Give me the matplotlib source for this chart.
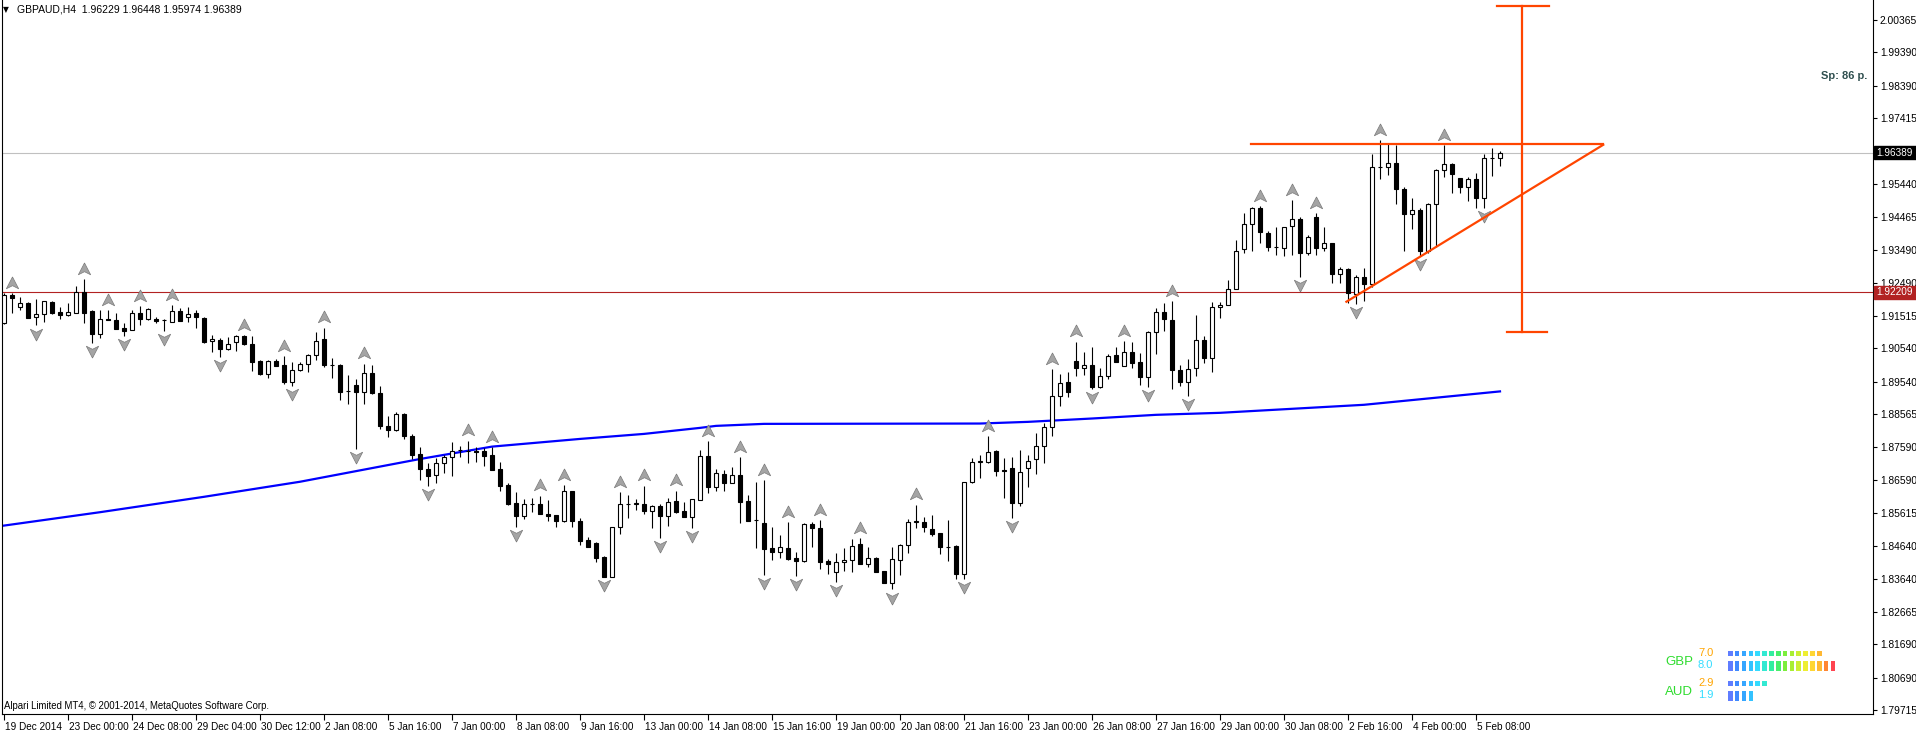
import numpy as np
import matplotlib
matplotlib.use('Agg')
import matplotlib.pyplot as plt
import matplotlib.transforms as mtransforms
from matplotlib.patches import Rectangle

plt.rcParams['font.family'] = ['Liberation Sans', 'DejaVu Sans']

# GBPAUD H4 candles, 19 Dec 2014 .. 5 Feb 2015
opens = [1.9128, 1.9214, 1.9176, 1.9190, 1.9146, 1.9155, 1.9192, 1.9162, 1.9152, 1.9160,
         1.9221, 1.9165, 1.9096, 1.9140, 1.9138, 1.9114, 1.9110, 1.9158, 1.9140, 1.9140,
         1.9137, 1.9133, 1.9165, 1.9146, 1.9158, 1.9143, 1.9075, 1.9080, 1.9052, 1.9072,
         1.9090, 1.9068, 1.9015, 1.8978, 1.9015, 1.9003, 1.8953, 1.8988, 1.9008, 1.9035,
         1.9083, 1.9005, 1.9005, 1.8925, 1.8945, 1.8923, 1.8981, 1.8921, 1.8823, 1.8811,
         1.8856, 1.8793, 1.8737, 1.8692, 1.8675, 1.8710, 1.8728, 1.8749, 1.8748, 1.8747,
         1.8747, 1.8735, 1.8692, 1.8645, 1.8591, 1.8554, 1.8588, 1.8589, 1.8560, 1.8555,
         1.8538, 1.8627, 1.8538, 1.8481, 1.8473, 1.8430, 1.8371, 1.8519, 1.8588, 1.8590,
         1.8589, 1.8568, 1.8583, 1.8553, 1.8597, 1.8567, 1.8551, 1.8601, 1.8732, 1.8640,
         1.8678, 1.8652, 1.8675, 1.8597, 1.8540, 1.8533, 1.8456, 1.8446, 1.8456, 1.8426,
         1.8419, 1.8528, 1.8516, 1.8418, 1.8384, 1.8414, 1.8421, 1.8468, 1.8408, 1.8426,
         1.8388, 1.8351, 1.8421, 1.8466, 1.8536, 1.8534, 1.8514, 1.8502, 1.8461, 1.8463,
         1.8378, 1.8655, 1.8715, 1.8715, 1.8748, 1.8690, 1.8695, 1.8592, 1.8695, 1.8722,
         1.8763, 1.8818, 1.8912, 1.8952, 1.9016, 1.8996, 1.9004, 1.8939, 1.8971, 1.9034,
         1.9002, 1.9042, 1.9012, 1.8969, 1.9102, 1.9163, 1.9138, 1.8989, 1.8952, 1.8994,
         1.9079, 1.9026, 1.9176, 1.9183, 1.9230, 1.9351, 1.9425, 1.9472, 1.9399, 1.9356,
         1.9353, 1.9419, 1.9440, 1.9340, 1.9445, 1.9353, 1.9368, 1.9275, 1.9290, 1.9216,
         1.9266, 1.9245, 1.9597, 1.9595, 1.9607, 1.9529, 1.9454, 1.9467, 1.9346, 1.9484,
         1.9587, 1.9605, 1.9562, 1.9537, 1.9559, 1.9502, 1.9623, 1.96229]
highs = [1.9218, 1.9218, 1.9208, 1.9193, 1.9200, 1.9196, 1.9196, 1.9178, 1.9190, 1.9240,
         1.9261, 1.9168, 1.9168, 1.9168, 1.9158, 1.9128, 1.9168, 1.9180, 1.9174, 1.9148,
         1.9142, 1.9183, 1.9173, 1.9178, 1.9168, 1.9146, 1.9093, 1.9085, 1.9088, 1.9093,
         1.9093, 1.9090, 1.9018, 1.9018, 1.9021, 1.9030, 1.9013, 1.9013, 1.9038, 1.9103,
         1.9116, 1.9026, 1.9008, 1.8973, 1.8961, 1.9008, 1.9003, 1.8940, 1.8853, 1.8863,
         1.8860, 1.8798, 1.8758, 1.8710, 1.8725, 1.8735, 1.8773, 1.8762, 1.8778, 1.8760,
         1.8755, 1.8758, 1.8713, 1.8650, 1.8623, 1.8603, 1.8605, 1.8613, 1.8600, 1.8555,
         1.8645, 1.8628, 1.8546, 1.8491, 1.8476, 1.8433, 1.8519, 1.8623, 1.8616, 1.8602,
         1.8643, 1.8586, 1.8588, 1.8605, 1.8628, 1.8593, 1.8603, 1.8750, 1.8777, 1.8692,
         1.8690, 1.8698, 1.8728, 1.8615, 1.8655, 1.8660, 1.8519, 1.8496, 1.8534, 1.8444,
         1.8531, 1.8536, 1.8541, 1.8424, 1.8441, 1.8456, 1.8483, 1.8486, 1.8459, 1.8431,
         1.8389, 1.8459, 1.8469, 1.8544, 1.8586, 1.8549, 1.8556, 1.8502, 1.8541, 1.8466,
         1.8655, 1.8725, 1.8735, 1.8792, 1.8750, 1.8725, 1.8728, 1.8750, 1.8735, 1.8802,
         1.8832, 1.8992, 1.8977, 1.8982, 1.9074, 1.9042, 1.9057, 1.8994, 1.9036, 1.9057,
         1.9076, 1.9074, 1.9039, 1.9107, 1.9173, 1.9188, 1.9195, 1.9004, 1.9022, 1.9153,
         1.9091, 1.9193, 1.9193, 1.9258, 1.9377, 1.9457, 1.9475, 1.9479, 1.9405, 1.9415,
         1.9417, 1.9497, 1.9445, 1.9392, 1.9457, 1.9417, 1.9370, 1.9298, 1.9293, 1.9273,
         1.9293, 1.9635, 1.9676, 1.9668, 1.9661, 1.9535, 1.9502, 1.9472, 1.9489, 1.9589,
         1.9661, 1.9607, 1.9562, 1.9567, 1.9579, 1.9635, 1.9652, 1.96448]
lows = [1.9126, 1.9160, 1.9168, 1.9143, 1.9122, 1.9133, 1.9155, 1.9142, 1.9150, 1.9158,
        1.9128, 1.9070, 1.9086, 1.9137, 1.9112, 1.9092, 1.9110, 1.9122, 1.9138, 1.9130,
        1.9106, 1.9133, 1.9136, 1.9133, 1.9115, 1.9070, 1.9043, 1.9028, 1.9048, 1.9046,
        1.9063, 1.8986, 1.8973, 1.8965, 1.9000, 1.8946, 1.8940, 1.8985, 1.8983, 1.9020,
        1.8998, 1.8966, 1.8898, 1.8888, 1.8753, 1.8888, 1.8918, 1.8813, 1.8790, 1.8808,
        1.8782, 1.8724, 1.8660, 1.8643, 1.8650, 1.8680, 1.8673, 1.8728, 1.8710, 1.8715,
        1.8703, 1.8690, 1.8628, 1.8586, 1.8521, 1.8544, 1.8565, 1.8558, 1.8538, 1.8521,
        1.8535, 1.8519, 1.8466, 1.8459, 1.8416, 1.8369, 1.8369, 1.8498, 1.8546, 1.8570,
        1.8558, 1.8518, 1.8488, 1.8524, 1.8561, 1.8551, 1.8516, 1.8601, 1.8622, 1.8628,
        1.8628, 1.8652, 1.8531, 1.8537, 1.8458, 1.8376, 1.8421, 1.8428, 1.8421, 1.8374,
        1.8414, 1.8461, 1.8394, 1.8378, 1.8354, 1.8389, 1.8384, 1.8408, 1.8401, 1.8384,
        1.8351, 1.8333, 1.8376, 1.8441, 1.8516, 1.8506, 1.8494, 1.8438, 1.8419, 1.8363,
        1.8363, 1.8652, 1.8667, 1.8712, 1.8673, 1.8605, 1.8546, 1.8583, 1.8638, 1.8677,
        1.8712, 1.8792, 1.8880, 1.8909, 1.8972, 1.8974, 1.8931, 1.8934, 1.8961, 1.9014,
        1.9002, 1.8996, 1.8944, 1.8939, 1.9036, 1.9107, 1.8931, 1.8942, 1.8912, 1.8971,
        1.9009, 1.8982, 1.9145, 1.9183, 1.9230, 1.9338, 1.9345, 1.9370, 1.9346, 1.9333,
        1.9331, 1.9333, 1.9266, 1.9333, 1.9333, 1.9346, 1.9250, 1.9250, 1.9190, 1.9186,
        1.9195, 1.9238, 1.9559, 1.9572, 1.9484, 1.9346, 1.9409, 1.9330, 1.9340, 1.9358,
        1.9565, 1.9519, 1.9519, 1.9495, 1.9474, 1.9472, 1.9569, 1.95974]
closes = [1.9213, 1.9203, 1.9190, 1.9145, 1.9156, 1.9194, 1.9160, 1.9152, 1.9162, 1.9221,
          1.9160, 1.9096, 1.9140, 1.9137, 1.9112, 1.9106, 1.9158, 1.9140, 1.9170, 1.9135,
          1.9137, 1.9165, 1.9136, 1.9156, 1.9146, 1.9073, 1.9081, 1.9052, 1.9068, 1.9090,
          1.9066, 1.9013, 1.8976, 1.9015, 1.9002, 1.8953, 1.8988, 1.9008, 1.9035, 1.9075,
          1.9003, 1.9005, 1.8923, 1.8925, 1.8923, 1.8981, 1.8920, 1.8823, 1.8811, 1.8856,
          1.8791, 1.8734, 1.8692, 1.8673, 1.8710, 1.8728, 1.8748, 1.8751, 1.8746, 1.8745,
          1.8733, 1.8690, 1.8643, 1.8589, 1.8554, 1.8588, 1.8588, 1.8558, 1.8553, 1.8538,
          1.8627, 1.8538, 1.8479, 1.8461, 1.8428, 1.8369, 1.8519, 1.8588, 1.8589, 1.8591,
          1.8568, 1.8583, 1.8553, 1.8595, 1.8565, 1.8551, 1.8603, 1.8732, 1.8640, 1.8680,
          1.8652, 1.8675, 1.8595, 1.8538, 1.8540, 1.8453, 1.8446, 1.8459, 1.8424, 1.8419,
          1.8528, 1.8516, 1.8416, 1.8408, 1.8414, 1.8421, 1.8464, 1.8408, 1.8426, 1.8386,
          1.8351, 1.8423, 1.8466, 1.8536, 1.8538, 1.8519, 1.8499, 1.8459, 1.8461, 1.8378,
          1.8655, 1.8715, 1.8718, 1.8745, 1.8688, 1.8688, 1.8592, 1.8685, 1.8718, 1.8763,
          1.8818, 1.8912, 1.8949, 1.8924, 1.8996, 1.9004, 1.8939, 1.8971, 1.9032, 1.9014,
          1.9042, 1.9011, 1.8969, 1.9102, 1.9163, 1.9140, 1.8989, 1.8952, 1.8991, 1.9079,
          1.9026, 1.9176, 1.9183, 1.9230, 1.9345, 1.9425, 1.9472, 1.9400, 1.9356, 1.9356,
          1.9415, 1.9439, 1.9340, 1.9387, 1.9353, 1.9368, 1.9275, 1.9290, 1.9220, 1.9266,
          1.9245, 1.9595, 1.9597, 1.9607, 1.9529, 1.9454, 1.9467, 1.9346, 1.9484, 1.9587,
          1.9605, 1.9574, 1.9537, 1.9559, 1.9502, 1.9624, 1.9624, 1.96389]

# moving average (blue), read at a few bars
ma_idx = [0, 12, 25, 37, 52, 61, 72, 80, 87, 89, 95, 122, 128, 136, 144, 152, 170, 187]
ma_val = [1.8524, 1.8564, 1.8610, 1.8655, 1.8723, 1.8760, 1.8783, 1.8798, 1.8816, 1.8822,
          1.8828, 1.8829, 1.8834, 1.8844, 1.8855, 1.8861, 1.8885, 1.8925]

# fractal arrows
frac_up = [1, 10, 13, 17, 21, 30, 35, 40, 45, 58, 61, 67, 70, 77, 80, 84, 88, 92, 95, 98,
           102, 107, 114, 123, 131, 134, 140, 146, 157, 161, 164, 172, 180]
frac_dn = [4, 11, 15, 20, 27, 36, 44, 53, 64, 75, 82, 86, 95, 99, 104, 111, 120, 126, 136,
           143, 148, 162, 169, 177, 185]

date_labels = ['19 Dec 2014', '23 Dec 00:00', '24 Dec 08:00', '29 Dec 04:00', '30 Dec 12:00',
               '2 Jan 08:00', '5 Jan 16:00', '7 Jan 00:00', '8 Jan 08:00', '9 Jan 16:00',
               '13 Jan 00:00', '14 Jan 08:00', '15 Jan 16:00', '19 Jan 00:00', '20 Jan 08:00',
               '21 Jan 16:00', '23 Jan 00:00', '26 Jan 08:00', '27 Jan 16:00', '29 Jan 00:00',
               '30 Jan 08:00', '2 Feb 16:00', '4 Feb 00:00', '5 Feb 08:00']
price_ticks = [2.00365, 1.99390, 1.98390, 1.97415, 1.95440, 1.94465, 1.93490, 1.92490,
               1.91515, 1.90540, 1.89540, 1.88565, 1.87590, 1.86590, 1.85615, 1.84640,
               1.83640, 1.82665, 1.81690, 1.80690, 1.79715]

bid = 1.96389
level = 1.92209
spread = 86

# hand drawn triangle + target
tri_top_x, tri_top_y = [155.9, 199.9], [1.9663, 1.9663]
tri_side_x, tri_side_y = [167.8, 199.9], [1.9193, 1.9662]
target_x = 189.8
target_hi, target_lo = 2.0077, 1.9104
cap_hi_x = [186.6, 193.1]
cap_lo_x = [187.9, 192.9]

# currency strength box
cur_names = ['GBP', 'AUD']
cur_a = [7.0, 2.9]
cur_b = [8.0, 1.9]
palette = ['#5f7dff', '#3f8aff', '#35a6ff', '#33c2ff', '#33dbff', '#33e9d2', '#33ee9f', '#48ee6a',
           '#7cee3c', '#a8ee33', '#ccee33', '#eeee33', '#ffd633', '#ffb833', '#ff8633', '#ff4450']

W, H = 1916, 733
fig = plt.figure(figsize=(W / 100, H / 100), dpi=100)
ax = fig.add_axes([2 / W, 19 / H, 1871 / W, 714 / H])
ytop, ybot = 2.009478, 1.79609
ax.set_xlim(-0.25, 233.625)
ax.set_ylim(ybot, ytop)

opens = np.array(opens)
closes = np.array(closes)
x = np.arange(len(opens))

ax.axhline(bid, color='#c0c0c0', lw=0.8, zorder=1)
ax.axhline(level, color='#b22222', lw=0.8, zorder=1)
ax.plot(ma_idx, ma_val, color='#0000ff', lw=1.6, zorder=2)

ax.vlines(x, lows, highs, color='black', lw=0.8, zorder=3)
up = closes >= opens
bot = np.minimum(opens, closes)
hgt = np.abs(closes - opens)
ax.bar(x[up], hgt[up], bottom=bot[up], width=0.6, color='white', edgecolor='black', lw=0.8, zorder=4)
ax.bar(x[~up], hgt[~up], bottom=bot[~up], width=0.6, color='black', edgecolor='black', lw=0.8, zorder=4)

# fractal arrowheads
up_arrow = [(0, 0.75), (0.7, -0.6), (0, -0.25), (-0.7, -0.6), (0, 0.75)]
dn_arrow = [(a, -b) for a, b in up_arrow]
hh = np.array(highs)
ll = np.array(lows)
ax.plot(frac_up, hh[frac_up] + 0.0031, ls='none', marker=up_arrow, ms=9.5,
        mfc='#a4a4a4', mec='#7a7a7a', mew=0.5, zorder=5)
ax.plot(frac_dn, ll[frac_dn] - 0.0024, ls='none', marker=dn_arrow, ms=9.5,
        mfc='#a4a4a4', mec='#7a7a7a', mew=0.5, zorder=5)

# triangle and range
orange = '#ff4500'
ax.plot(tri_top_x, tri_top_y, color=orange, lw=1.6, zorder=6, clip_on=False)
ax.plot(tri_side_x, tri_side_y, color=orange, lw=1.6, zorder=6, clip_on=False)
ax.plot([target_x, target_x], [target_lo, target_hi], color=orange, lw=1.6, zorder=6)
ax.plot(cap_hi_x, [target_hi, target_hi], color=orange, lw=1.6, zorder=6)
ax.plot(cap_lo_x, [target_lo, target_lo], color=orange, lw=1.6, zorder=6)

# axes styling like the terminal
for s in ['left', 'right', 'bottom']:
    ax.spines[s].set_linewidth(0.8)
ax.spines['top'].set_visible(False)
ax.yaxis.tick_right()
ax.set_yticks(price_ticks)
ax.set_yticklabels(['%.5f' % v for v in price_ticks])
ax.tick_params(axis='y', direction='out', length=3, width=0.8, pad=2, labelsize=7.4)
ax.set_xticks(np.arange(len(date_labels)) * 8)
ax.set_xticklabels(date_labels)
ax.tick_params(axis='x', direction='out', length=4, width=0.8, pad=2, labelsize=7.2)
shift = mtransforms.ScaledTranslation(1 / 100, 0, fig.dpi_scale_trans)
for lab in ax.get_xticklabels():
    lab.set_horizontalalignment('left')
    lab.set_transform(lab.get_transform() + shift)

# overlay in pixel coordinates
ov = fig.add_axes([0, 0, 1, 1])
ov.set_xlim(0, W)
ov.set_ylim(H, 0)
ov.axis('off')
ov.patch.set_alpha(0)


def py(p):
    return (ytop - p) / (ytop - ybot) * 714


ov.text(3, 10, '\u25bc', fontsize=5.5, va='center', family='DejaVu Sans')
ov.text(17, 10, 'GBPAUD,H4  %.5f %.5f %.5f %.5f' % (opens[-1], highs[-1], lows[-1], closes[-1]),
        fontsize=7.5, va='center')
ov.text(4, 706, 'Alpari Limited MT4, \u00a9 2001-2014, MetaQuotes Software Corp.', fontsize=6.9,
        va='center')
ov.text(1867, 76, 'Sp: %d p.' % spread, fontsize=8, fontweight='bold', color='#2f4f4f',
        ha='right', va='center')

for p, bg in [(bid, 'black'), (level, '#b22222')]:
    yy = py(p)
    ov.add_patch(Rectangle((1874, yy - 6.5), 42, 13, color=bg, zorder=5))
    ov.text(1876.5, yy, '%.5f' % p, color='white', fontsize=7.2, va='center', zorder=6)

# currency strength meter
name_y = [662, 692]
row_a = [651, 681]
row_b = [661, 691]
for j, nm in enumerate(cur_names):
    ov.text(1665, name_y[j], nm, color='#2edc2e', fontsize=9.5, va='center')
    ov.text(1698, row_a[j] + 2, '%.1f' % cur_a[j], color='#ffa500', fontsize=8, va='center')
    ov.text(1698, row_b[j] + 4, '%.1f' % cur_b[j], color='#33ddff', fontsize=8, va='center')
    for k in range(int(round(cur_a[j] * 2))):
        ov.add_patch(Rectangle((1728 + k * 6.85, row_a[j]), 4.6, 5, color=palette[k], lw=0))
    for k in range(int(round(cur_b[j] * 2))):
        ov.add_patch(Rectangle((1728 + k * 6.85, row_b[j]), 4.6, 10, color=palette[k], lw=0))

fig.savefig('out.png', dpi=100)
